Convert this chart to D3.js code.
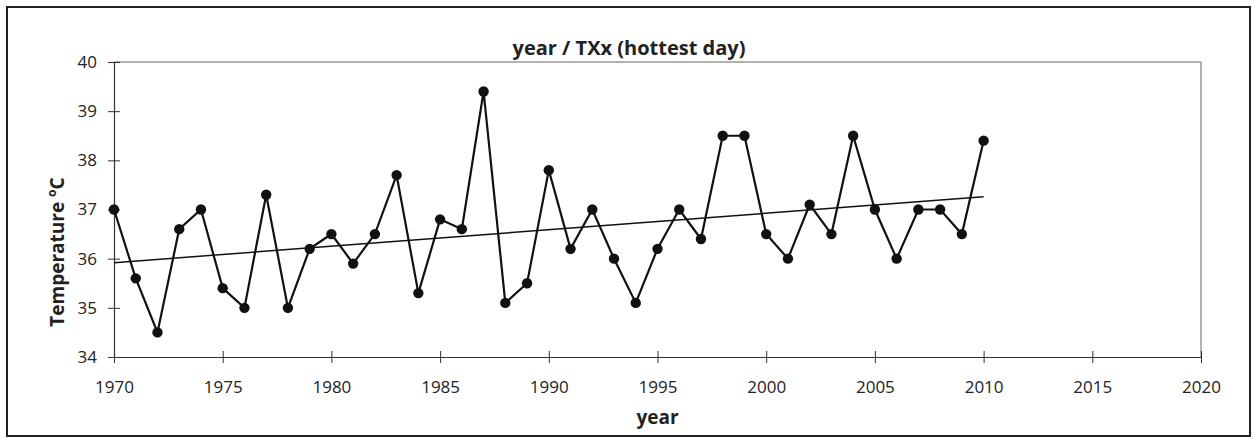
<!DOCTYPE html>
<html>
<head>
<meta charset="utf-8">
<script src="https://cdn.jsdelivr.net/npm/d3@7"></script>
<style>
  html, body { margin: 0; padding: 0; background: #fff; }
  svg { display: block; }
  text { font-family: "Open Sans", "Liberation Sans", sans-serif; fill: #222; }
</style>
</head>
<body>
<div id="chart"></div>
<script>
// data
const years = d3.range(1970, 2011);
const txx = [
  37.0, 35.6, 34.5, 36.6, 37.0, 35.4, 35.0, 37.3, 35.0, 36.2,
  36.5, 35.9, 36.5, 37.7, 35.3, 36.8, 36.6, 39.4, 35.1, 35.5,
  37.8, 36.2, 37.0, 36.0, 35.1, 36.2, 37.0, 36.4, 38.5, 38.5,
  36.5, 36.0, 37.1, 36.5, 38.5, 37.0, 36.0, 37.0, 37.0, 36.5,
  38.4
];
const xTicks = [1970, 1975, 1980, 1985, 1990, 1995, 2000, 2005, 2010, 2015, 2020];
const yTicks = [34, 35, 36, 37, 38, 39, 40];

const W = 1255, H = 439;
const plot = { left: 114, right: 1201, top: 62, bottom: 357 };

const svg = d3.select('#chart').append('svg')
  .attr('width', W)
  .attr('height', H);

// outer chart border
svg.append('rect')
  .attr('x', 7).attr('y', 7)
  .attr('width', 1243).attr('height', 429)
  .attr('fill', 'none')
  .attr('stroke', '#222')
  .attr('stroke-width', 2);

const x = d3.scaleLinear().domain([1970, 2020]).range([plot.left, plot.right]);
const y = d3.scaleLinear().domain([34, 40]).range([plot.bottom, plot.top]);

// plot frame (top / right)
svg.append('path')
  .attr('d', `M${plot.left},${plot.top}H${plot.right}V${plot.bottom}`)
  .attr('fill', 'none')
  .attr('stroke', '#666')
  .attr('stroke-width', 1);

// axes with crossing ticks
const xAxis = svg.append('g')
  .attr('transform', `translate(0,${plot.bottom})`)
  .call(d3.axisBottom(x).tickValues(xTicks).tickFormat(d3.format('d')).tickSizeInner(6).tickSizeOuter(0).tickPadding(18));
xAxis.select('.domain').attr('stroke', '#333').attr('stroke-width', 1.2);
xAxis.selectAll('.tick line').attr('stroke', '#333').attr('y1', -6).attr('y2', 6);
xAxis.selectAll('.tick text').attr('font-size', 17).attr('font-family', '"Open Sans", sans-serif').attr('fill', '#222');

const yAxis = svg.append('g')
  .attr('transform', `translate(${plot.left},0)`)
  .call(d3.axisLeft(y).tickValues(yTicks).tickFormat(d3.format('d')).tickSizeInner(6).tickSizeOuter(0).tickPadding(11));
yAxis.select('.domain').attr('stroke', '#333').attr('stroke-width', 1.2);
yAxis.selectAll('.tick line').attr('stroke', '#333').attr('x1', -6).attr('x2', 6);
yAxis.selectAll('.tick text').attr('font-size', 17).attr('font-family', '"Open Sans", sans-serif').attr('fill', '#222');

// linear trend (least squares on the series)
const mx = d3.mean(years), my = d3.mean(txx);
const slope = d3.sum(years, (d, i) => (d - mx) * (txx[i] - my)) / d3.sum(years, d => (d - mx) ** 2);
const trend = [years[0], years[years.length - 1]].map(d => [d, my + slope * (d - mx)]);

svg.append('path')
  .datum(trend)
  .attr('d', d3.line().x(d => x(d[0])).y(d => y(d[1])))
  .attr('fill', 'none')
  .attr('stroke', '#111')
  .attr('stroke-width', 1.5);

// series
const pts = years.map((d, i) => [d, txx[i]]);
svg.append('path')
  .datum(pts)
  .attr('d', d3.line().x(d => x(d[0])).y(d => y(d[1])))
  .attr('fill', 'none')
  .attr('stroke', '#111')
  .attr('stroke-width', 2.2);

svg.append('g').selectAll('circle')
  .data(pts)
  .join('circle')
  .attr('cx', d => x(d[0]))
  .attr('cy', d => y(d[1]))
  .attr('r', 5.2)
  .attr('fill', '#111');

// titles
svg.append('text')
  .attr('x', 629).attr('y', 55)
  .attr('text-anchor', 'middle')
  .attr('font-size', 20).attr('font-weight', 'bold')
  .text('year / TXx (hottest day)');

svg.append('text')
  .attr('x', (plot.left + plot.right) / 2).attr('y', 424)
  .attr('text-anchor', 'middle')
  .attr('font-size', 19).attr('font-weight', 'bold')
  .text('year');

const yt = svg.append('text')
  .attr('transform', 'translate(64,252) rotate(-90)')
  .attr('text-anchor', 'middle')
  .attr('font-size', 19).attr('font-weight', 'bold');
yt.append('tspan').text('Temperature ');
yt.append('tspan').attr('font-size', 12).attr('dy', -8).text('o');
yt.append('tspan').attr('dy', 8).text('C');
</script>
</body>
</html>
